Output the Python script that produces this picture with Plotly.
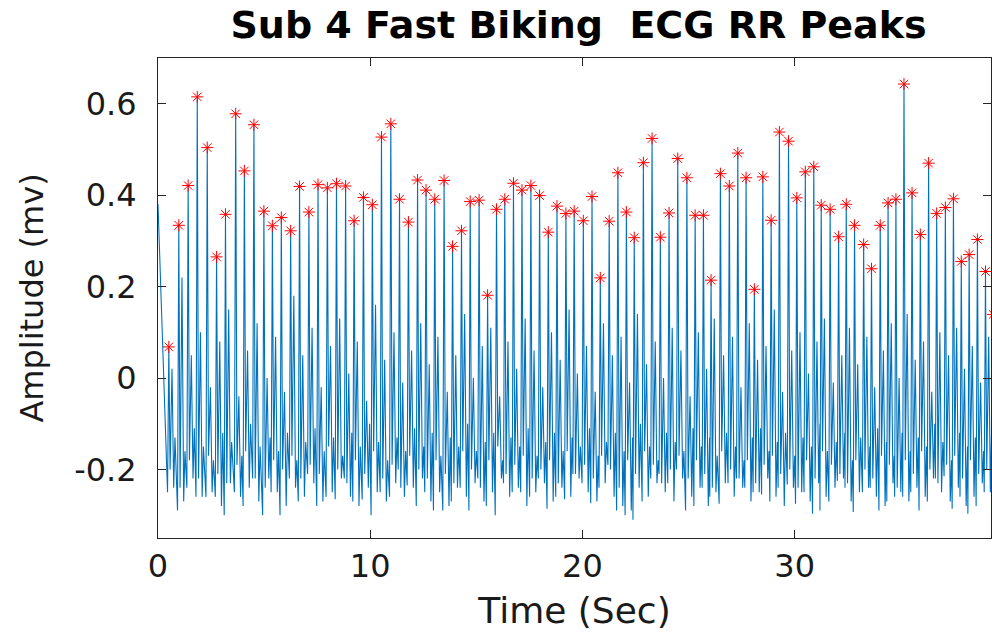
import plotly.graph_objects as go

# ---- data ----
# R-peak times (s) and amplitudes (mV)
peak_t = [0.51, 0.98, 1.42, 1.85, 2.32, 2.76, 3.18, 3.66, 4.07, 4.52, 4.99, 5.39, 5.81, 6.25,
          6.67, 7.11, 7.54, 7.98, 8.41, 8.84, 9.24, 9.68, 10.10, 10.53, 10.97, 11.38, 11.80, 12.23, 12.63,
          13.04, 13.48, 13.88, 14.30, 14.71, 15.13, 15.53, 15.95, 16.34, 16.75, 17.15, 17.57, 17.98, 18.39, 18.80, 19.22, 19.61,
          20.04, 20.45, 20.84, 21.26, 21.67, 22.07, 22.44, 22.87, 23.28, 23.67, 24.08, 24.49, 24.92, 25.31, 25.70, 26.06,
          26.50, 26.92, 27.32, 27.71, 28.10, 28.50, 28.89, 29.28, 29.71, 30.10, 30.50, 30.90, 31.25, 31.67, 32.07, 32.43, 32.82,
          33.25, 33.62, 34.03, 34.40, 34.77, 35.15, 35.53, 35.92, 36.31, 36.69, 37.10, 37.48, 37.85, 38.22, 38.61, 38.99, 39.35]
peak_v = [0.068, 0.334, 0.421, 0.615, 0.504, 0.265, 0.358, 0.578, 0.453, 0.554, 0.365, 0.333, 0.351, 0.322,
          0.419, 0.363, 0.423, 0.416, 0.425, 0.420, 0.344, 0.395, 0.379, 0.527, 0.556, 0.391, 0.341, 0.433, 0.411,
          0.391, 0.432, 0.288, 0.322, 0.386, 0.389, 0.181, 0.369, 0.391, 0.426, 0.411, 0.421, 0.399, 0.319, 0.376, 0.360, 0.365,
          0.344, 0.397, 0.219, 0.343, 0.449, 0.363, 0.307, 0.471, 0.524, 0.308, 0.361, 0.480, 0.438, 0.356, 0.356, 0.214,
          0.447, 0.420, 0.492, 0.438, 0.194, 0.440, 0.345, 0.538, 0.518, 0.394, 0.451, 0.462, 0.378, 0.369, 0.309, 0.380, 0.334,
          0.292, 0.239, 0.334, 0.383, 0.391, 0.643, 0.405, 0.314, 0.470, 0.360, 0.373, 0.392, 0.255, 0.270, 0.303, 0.233, 0.139]
# trough just before each R peak (mV)
q_vals = [-0.25, -0.29, -0.24, -0.26, -0.26, -0.26, -0.30, -0.25, -0.28, -0.22, -0.30, -0.25, -0.30, -0.22,
          -0.27, -0.21, -0.28, -0.26, -0.265, -0.22, -0.27, -0.266, -0.30, -0.25, -0.26, -0.20, -0.235, -0.28, -0.25,
          -0.29, -0.29, -0.27, -0.24, -0.29, -0.22, -0.28, -0.30, -0.23, -0.25, -0.25, -0.26, -0.22, -0.286, -0.26, -0.265, -0.21,
          -0.23, -0.274, -0.24, -0.19, -0.29, -0.30, -0.31, -0.27, -0.22, -0.21, -0.23, -0.20, -0.29, -0.28, -0.24, -0.26,
          -0.275, -0.23, -0.22, -0.24, -0.25, -0.255, -0.27, -0.24, -0.233, -0.275, -0.25, -0.297, -0.29, -0.27, -0.225, -0.24, -0.293,
          -0.25, -0.24, -0.29, -0.27, -0.26, -0.26, -0.25, -0.29, -0.27, -0.22, -0.215, -0.286, -0.26, -0.297, -0.28, -0.25, -0.275]
# trough right after each R peak (mV)
s_vals = [-0.20, -0.24, -0.18, -0.22, -0.17, -0.21, -0.23, -0.19, -0.16, -0.22, -0.24, -0.18, -0.20, -0.17,
          -0.22, -0.19, -0.21, -0.15, -0.20, -0.23, -0.18, -0.21, -0.16, -0.22, -0.19, -0.24, -0.17, -0.20, -0.22,
          -0.18, -0.21, -0.23, -0.16, -0.20, -0.24, -0.18, -0.15, -0.21, -0.19, -0.17, -0.22, -0.20, -0.18, -0.23, -0.16, -0.21,
          -0.19, -0.22, -0.17, -0.20, -0.24, -0.18, -0.21, -0.16, -0.19, -0.23, -0.20, -0.17, -0.22, -0.18, -0.21, -0.24,
          -0.16, -0.20, -0.22, -0.18, -0.23, -0.19, -0.17, -0.21, -0.20, -0.24, -0.18, -0.22, -0.16, -0.19, -0.21, -0.23, -0.18,
          -0.20, -0.22, -0.17, -0.19, -0.24, -0.18, -0.21, -0.16, -0.20, -0.23, -0.19, -0.17, -0.22, -0.18, -0.21, -0.20, -0.19]
# T-wave level between beats (mV)
t_vals = [0.02, 0.22, 0.05, 0.10, -0.02, 0.08, 0.15, -0.04, 0.06, 0.12, 0.00, 0.09, -0.03, 0.18,
          0.05, 0.11, -0.02, 0.07, 0.13, 0.01, 0.08, -0.05, 0.16, 0.04, 0.10, -0.01, 0.06, 0.12, 0.03,
          0.09, -0.03, 0.05, 0.14, 0.00, 0.07, 0.11, -0.04, 0.08, 0.02, 0.13, 0.06, -0.02, 0.10, 0.04, 0.15, 0.01,
          0.07, -0.03, 0.12, 0.05, 0.09, -0.01, 0.14, 0.03, 0.08, 0.00, 0.11, 0.06, -0.04, 0.10, 0.02, 0.13,
          0.05, 0.09, -0.02, 0.12, 0.04, 0.07, 0.15, -0.03, 0.06, 0.10, 0.01, 0.08, 0.13, -0.01, 0.05, 0.11, 0.03,
          0.09, -0.02, 0.06, 0.12, 0.00, 0.14, 0.04, 0.08, -0.03, 0.10, 0.05, 0.11, 0.02, 0.07, -0.01, 0.09, 0.03]
# dip after the T wave (mV)
d_vals = [-0.24, -0.27, -0.22, -0.26, -0.25, -0.28, -0.23, -0.26, -0.24, -0.27, -0.22, -0.25, -0.28, -0.24,
          -0.26, -0.23, -0.27, -0.25, -0.22, -0.26, -0.28, -0.24, -0.25, -0.27, -0.23, -0.26, -0.24, -0.22, -0.27,
          -0.25, -0.28, -0.24, -0.26, -0.23, -0.27, -0.25, -0.22, -0.26, -0.24, -0.28, -0.25, -0.23, -0.27, -0.24, -0.26, -0.22,
          -0.25, -0.27, -0.23, -0.26, -0.28, -0.29, -0.24, -0.26, -0.23, -0.25, -0.27, -0.22, -0.26, -0.24, -0.28, -0.25,
          -0.23, -0.26, -0.24, -0.27, -0.25, -0.22, -0.26, -0.28, -0.24, -0.25, -0.27, -0.23, -0.26, -0.24, -0.22, -0.27, -0.25,
          -0.24, -0.26, -0.28, -0.23, -0.25, -0.27, -0.24, -0.26, -0.22, -0.25, -0.27, -0.24, -0.28, -0.26, -0.23, -0.25, -0.27]
# P-wave level before the next beat (mV)
p_vals = [-0.13, -0.16, -0.11, -0.15, -0.18, -0.12, -0.14, -0.17, -0.10, -0.15, -0.13, -0.16, -0.12, -0.18,
          -0.14, -0.11, -0.16, -0.13, -0.17, -0.12, -0.15, -0.10, -0.14, -0.18, -0.13, -0.16, -0.11, -0.15, -0.12,
          -0.17, -0.13, -0.15, -0.10, -0.16, -0.14, -0.12, -0.18, -0.13, -0.15, -0.11, -0.17, -0.14, -0.12, -0.16, -0.13, -0.15,
          -0.11, -0.17, -0.14, -0.12, -0.16, -0.13, -0.10, -0.15, -0.18, -0.12, -0.14, -0.16, -0.11, -0.15, -0.13, -0.17,
          -0.12, -0.15, -0.18, -0.13, -0.11, -0.16, -0.14, -0.12, -0.17, -0.13, -0.15, -0.10, -0.16, -0.14, -0.12, -0.18, -0.13,
          -0.15, -0.11, -0.14, -0.17, -0.12, -0.16, -0.13, -0.15, -0.10, -0.14, -0.18, -0.12, -0.15, -0.13, -0.16, -0.11, -0.14]
start_t, start_v = 0.0, 0.38

title_text = "Sub 4 Fast Biking \u00a0ECG RR Peaks"
x_title = "Time (Sec)"
y_title = "Amplitude (mv)"
x_ticks = [0, 10, 20, 30]
y_ticks = [-0.2, 0, 0.2, 0.4, 0.6]
y_ticktext = ["-0.2", "0", "0.2", "0.4", "0.6"]

# ---- build the ECG trace from the per-beat values ----
sig_t = [start_t]
sig_v = [start_v]
for i, (tp, vp) in enumerate(zip(peak_t, peak_v)):
    sig_t += [tp - 0.06, tp, tp + 0.06, tp + 0.15, tp + 0.23, tp + 0.29]
    sig_v += [q_vals[i], vp, s_vals[i], t_vals[i], d_vals[i], p_vals[i]]

fig = go.Figure()
fig.add_trace(go.Scatter(x=sig_t, y=sig_v, mode="lines",
                         line=dict(color="#0072BD", width=1.1), showlegend=False,
                         hoverinfo="skip"))
fig.add_trace(go.Scatter(x=peak_t, y=peak_v, mode="markers",
                         marker=dict(symbol="asterisk-open", size=10, color="#FF0000",
                                     line=dict(color="#FF0000", width=1)),
                         showlegend=False))

axis_col = "#262626"
font_fam = "DejaVu Sans"
fig.update_layout(
    width=992, height=638,
    margin=dict(l=158, r=1, t=58, b=100),
    paper_bgcolor="white", plot_bgcolor="white",
    title=dict(text=title_text, x=0.5832, xanchor="center", y=0.962, yanchor="middle",
               yref="container",
               font=dict(family=font_fam, size=38, color="black", weight="bold")),
    xaxis=dict(range=[0, 39.25], tickvals=x_ticks, ticks="inside", ticklen=8,
               tickcolor=axis_col, showline=True, linecolor=axis_col, linewidth=1,
               mirror="ticks", showgrid=False, zeroline=False, automargin=False,
               tickfont=dict(family=font_fam, size=32, color="#1a1a1a"),
               ticklabelstandoff=0,
               title=dict(text=x_title, standoff=13,
                          font=dict(family=font_fam, size=36, color="#1a1a1a"))),
    yaxis=dict(range=[-0.35, 0.7], tickvals=y_ticks, ticktext=y_ticktext, ticks="inside",
               ticklen=8, tickcolor=axis_col, showline=True, linecolor=axis_col, linewidth=1,
               mirror="ticks", showgrid=False, zeroline=False, automargin=False,
               tickfont=dict(family=font_fam, size=32, color="#1a1a1a"),
               ticklabelstandoff=14,
               title=dict(text=y_title, standoff=20,
                          font=dict(family=font_fam, size=32, color="#1a1a1a"))),
)
fig.write_html("out.html", config={"displayModeBar": False},
               post_script="document.body.style.margin='0';")
